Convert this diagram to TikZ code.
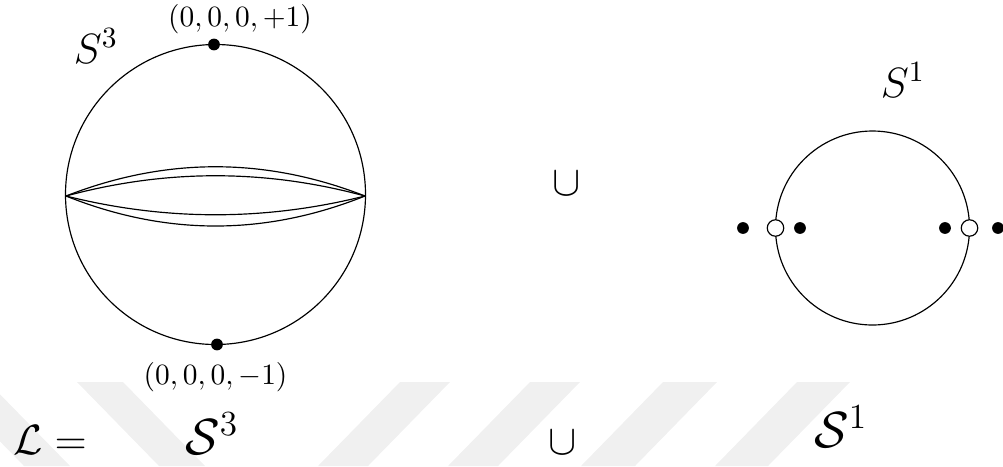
\documentclass[tikz,border=0pt]{standalone}
\usepackage{amsmath,amssymb}
\usetikzlibrary{positioning}

\begin{document}
\begin{tikzpicture}[x=0.34pt, y=0.34pt, font=\normalsize,
		dot/.style={circle, fill, inner sep=0pt, minimum size=4pt},
		hole/.style={circle, draw, fill=white, inner sep=0pt, minimum size=5.6pt}]
	\useasboundingbox (0,0) rectangle (1003,466);
	
	% faint stripes in the background
	\foreach \a/\b in {400/450, 530/580, 663/717, 797/850}
		\fill[black!6] (\a,84) -- (\b,84) -- (\b-82,0) -- (\a-82,0) -- cycle;
	\foreach \a/\b in {-58/-12, 77/123}
		\fill[black!6] (\a,84) -- (\b,84) -- (\b+82,0) -- (\a+82,0) -- cycle;
	
	% S^3 : big circle
	\coordinate (O3) at (215.5,271.5);
	\draw (O3) circle [radius=150];
	
	\coordinate (lensL) at (66,270);
	\coordinate (lensR) at (365,270);
	\draw (lensL) .. controls (166,309) and (265,309) .. (lensR);
	\draw (lensL) .. controls (166,297) and (265,297) .. (lensR);
	\draw (lensL) .. controls (166,245) and (265,245) .. (lensR);
	\draw (lensL) .. controls (166,230) and (265,230) .. (lensR);
	
	\node[dot] (N) at (214,421.5) {};
	\node[dot] (Sp) at (217,121.5) {};
	\node (Nlab) at (240,447) {$(0,0,0,+1)$};
	\node (Slab) at (215.5,89) {$(0,0,0,-1)$};
	\node[font=\Large] (S3) at (96,420) {$S^3$};
	
	\node[font=\Large] (cupT) at (567,282) {$\cup$};
	
	% S^1 : small circle
	\coordinate (O1) at (872.5,238);
	\draw (O1) circle [radius=97];
	\node[hole] (hL) at (775.5,238) {};
	\node[hole] (hR) at (969.5,238) {};
	\node[dot] (d1) at (743,238) {};
	\node[dot] (d2) at (800,238) {};
	\node[dot] (d3) at (945,238) {};
	\node[dot] (d4) at (998,238) {};
	\node[font=\Large] (S1) at (903,386) {$S^1$};
	
	% bottom line
	\node[font=\Large, anchor=base west, inner sep=0pt] (L) at (13,12) {$\mathcal{L} =$};
	\node[font=\LARGE, anchor=base, inner sep=0pt] (cS3) at (212,12) {$\mathcal{S}^3$};
	\node[font=\Large, anchor=base, inner sep=0pt] (cupB) at (563,12) {$\cup$};
	\node[font=\LARGE, anchor=base, inner sep=0pt] (cS1) at (841,19) {$\mathcal{S}^1$};
\end{tikzpicture}
\end{document}
